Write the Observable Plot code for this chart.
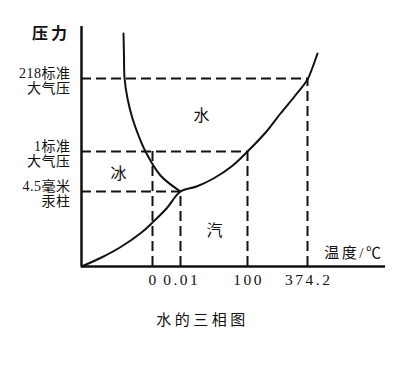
<!DOCTYPE html>
<html><head><meta charset="utf-8">
<script src="https://cdn.jsdelivr.net/npm/d3@7"></script>
<script src="https://cdn.jsdelivr.net/npm/@observablehq/plot@0.6"></script>
<style>
body{margin:0;background:#fff;}
#chart{width:419px;}
.cap{font-family:"Liberation Serif","Noto Sans CJK SC",serif;font-size:15px;letter-spacing:3.5px;text-align:center;width:419px;box-sizing:border-box;padding-right:14px;margin-top:10px;line-height:20px;color:#111;}
</style></head><body><div id="chart"></div><script>
// Schematic phase diagram (positions in diagram units, not to scale)
const tempLabels = ["0", "0.01", "100", "374.2"];
const tempPos = [71, 99, 166, 226];
const pressLabels = ["4.5毫米\n汞柱", "1标准\n大气压", "218标准\n大气压"];
const pressPos = [75, 115, 188];
// vertical dashed lines: top end at the pressure index
const vTop = [1, 0, 1, 2];
// horizontal dashed lines: right end at the temperature index
const hRight = [1, 2, 3];
// sublimation + vaporization curve
const vaporX = [0, 20, 40, 60, 71, 85, 99, 115, 132, 150, 166, 185, 199, 213, 226, 231, 236];
const vaporY = [0, 9, 20, 34, 44, 58, 75, 80, 88, 100, 115, 135, 153, 170, 187, 199, 213];
// melting curve
const meltX = [42, 42.5, 43, 46, 51, 57, 64, 79, 99];
const meltY = [233, 210, 189, 168, 148, 131, 115, 91, 75];
const phaseNames = ["冰", "水", "汽"];
const phaseX = [37, 120, 133];
const phaseY = [93, 151, 36];
const yTitle = "压力";
const xTitle = "温度/℃";
const caption = "水的三相图";

const vapor = vaporX.map((x, i) => ({x, y: vaporY[i]}));
const melt = meltX.map((x, i) => ({x, y: meltY[i]}));
const vLines = tempPos.map((t, i) => ({x: t, y2: pressPos[vTop[i]]}));
const hLines = pressPos.map((p, i) => ({y: p, x2: tempPos[hRight[i]]}));
const ticks = tempPos.map((t, i) => ({x: t, label: tempLabels[i]}));
const press = pressPos.map((p, i) => ({y: p, label: pressLabels[i]}));
const phases = phaseNames.map((n, i) => ({x: phaseX[i], y: phaseY[i], label: n}));

const FONT = '"Liberation Serif","Noto Sans CJK SC",serif';
const plot = Plot.plot({
  width: 419, height: 300,
  marginLeft: 81, marginRight: 34, marginTop: 26, marginBottom: 34,
  x: {domain: [0, 304], axis: null},
  y: {domain: [0, 240], axis: null},
  style: {fontFamily: FONT, color: "#111", background: "#fff", overflow: "visible"},
  marks: [
    Plot.ruleY(hLines, {y: "y", x1: 0, x2: "x2", stroke: "#111", strokeWidth: 2, strokeDasharray: "10,5"}),
    Plot.ruleX(vLines, {x: "x", y1: 0, y2: "y2", stroke: "#111", strokeWidth: 2, strokeDasharray: "10,5"}),
    Plot.line(vapor, {x: "x", y: "y", curve: "catmull-rom", stroke: "#111", strokeWidth: 2}),
    Plot.line(melt, {x: "x", y: "y", curve: "catmull-rom", stroke: "#111", strokeWidth: 2}),
    Plot.ruleX([0], {y1: 0, y2: 240, stroke: "#111", strokeWidth: 2.5}),
    Plot.ruleY([0], {x1: 0, x2: 304, stroke: "#111", strokeWidth: 2.5}),
    Plot.text(ticks, {x: "x", y: 0, text: "label", dy: 14, dx: 1.2, fontSize: 15.5, fill: "#111"}),
    Plot.text(press, {x: -11, y: "y", text: "label", dy: 2, textAnchor: "end", fontSize: 14, lineHeight: 1.08, fill: "#111"}),
    Plot.text(phases, {x: "x", y: "y", text: "label", fontSize: 16, fill: "#111"}),
    Plot.text([yTitle], {x: -30.5, y: 233, text: d => d, fontSize: 16, fontWeight: "bold", fill: "#111"}),
    Plot.text([xTitle], {x: 302, y: 13, text: d => d, textAnchor: "end", fontSize: 15, fill: "#111"})
  ]
});
document.getElementById("chart").append(plot);
d3.select(plot).selectAll("text").each(function() {
  const t = this.textContent;
  if (tempLabels.includes(t)) this.style.letterSpacing = "2.5px";
  else if (t === yTitle) this.style.letterSpacing = "3px";
  else if (t === xTitle) this.style.letterSpacing = "2.5px";
  else if (pressLabels.some(p => p.replace("\n", "") === t)) this.style.letterSpacing = "0.5px";
});
const cap = document.createElement("div");
cap.className = "cap";
cap.textContent = caption;
document.body.append(cap);
</script></body></html>
